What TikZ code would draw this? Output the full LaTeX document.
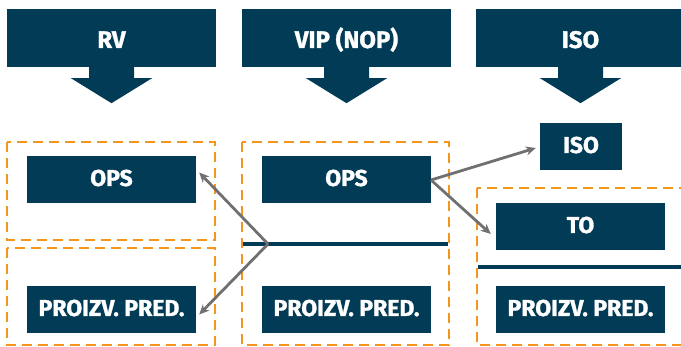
\documentclass[tikz,border=0pt]{standalone}
\usepackage{fontspec}
\setmainfont{Fira Sans}[BoldFeatures={FakeBold=1.2}]
\usetikzlibrary{arrows.meta,calc}
\definecolor{navy}{HTML}{023B56}
\definecolor{amber}{HTML}{F7941D}
\definecolor{ash}{HTML}{707070}
\tikzset{
  head/.style={fill=navy,text=white,inner sep=0pt,minimum width=209pt,minimum height=58pt,
    text height=20pt,text depth=0pt,font=\fontsize{24}{26}\selectfont\bfseries},
  unit/.style={fill=navy,text=white,inner sep=0pt,minimum width=169pt,minimum height=47pt,
    text height=13pt,text depth=0pt,font=\fontsize{23}{25}\selectfont\bfseries},
  group/.style={draw=amber,line width=2.6pt,dash pattern=on 10pt off 6pt},
  divider/.style={draw=navy,line width=3.2pt},
  link/.style={draw=ash,line width=2.8pt,-{Stealth[length=10pt,width=9pt]}},
  downarrow/.style={fill=navy}
}
\begin{document}
\begin{tikzpicture}[x=1pt,y=-1pt]
\useasboundingbox (0,0) rectangle (681,347);
\clip (0,0) rectangle (681,347);

% column headers with down arrows
\node[head] (rv)  at (111.5,38) {RV};
\node[head] (vip) at (346.5,38) {VIP (NOP)};
\node[head] (iso) at (580.5,38) {ISO};
\foreach \h in {rv,vip,iso}{
  \fill[downarrow] (\h.south) ++(-22.5,0) -- ++(0,11) -- ++(-18,0)
    -- ($(\h.south)+(0,36)$) -- ($(\h.south)+(40.5,11)$) -- ($(\h.south)+(22.5,11)$)
    -- ($(\h.south)+(22.5,0)$) -- cycle;
}

% dashed groups
\draw[group] (7,142) rectangle (215,240);
\draw[group] (7,248) rectangle (215,345);
\draw[group] (242,142) rectangle (449,345);
\draw[group] (477,188) rectangle (690,345);

% dividers
\draw[divider] (243,244) -- (448,244);
\draw[divider] (478,267) -- (681,267);

% unit boxes
\node[unit] (opsL)  at (111.5,179.5) {OPS};
\node[unit] (ppL)   at (111.5,309.5) {PROIZV. PRED.};
\node[unit] (opsM)  at (346.5,179.5) {OPS};
\node[unit] (ppM)   at (346.5,309.5) {PROIZV. PRED.};
\node[unit,minimum width=82pt] (isoS) at (581,146.5) {ISO};
\node[unit] (to)    at (580.5,226.5) {TO};
\node[unit] (ppR)   at (580.5,309.5) {PROIZV. PRED.};

% connectors
\coordinate (split) at (268,244);
\coordinate (fork) at (431,180);
\draw[link] (split) -- ($(opsL.east)+(3,-7)$);
\draw[link] (split) -- ($(ppL.east)+(3,5)$);
\draw[link] (fork) -- ($(isoS.west)+(-4,1.5)$);
\draw[link] (fork) -- ($(to.west)+(-5,7.5)$);
\end{tikzpicture}
\end{document}
